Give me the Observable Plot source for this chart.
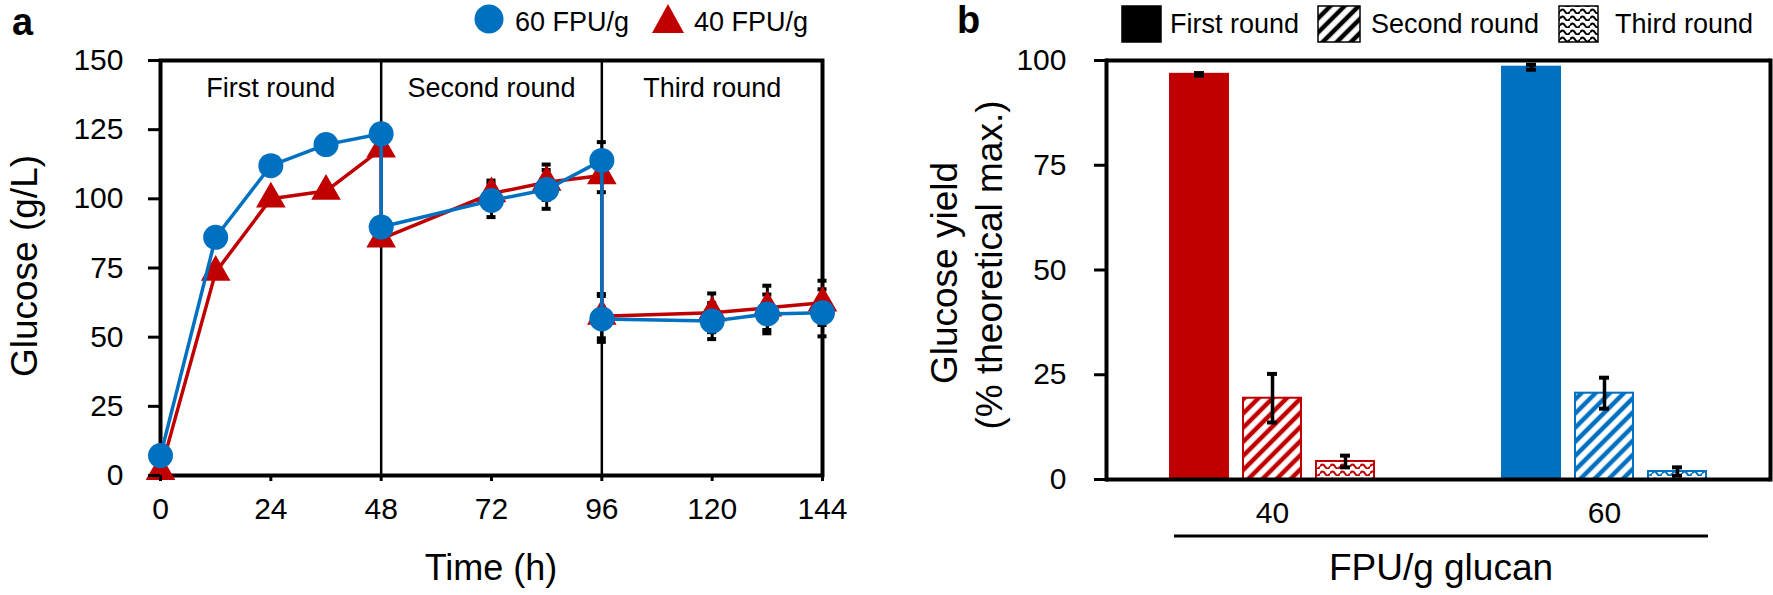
<!DOCTYPE html>
<html><head><meta charset="utf-8">
<script src="https://cdn.jsdelivr.net/npm/d3@7"></script>
<script src="https://cdn.jsdelivr.net/npm/@observablehq/plot@0.6"></script>
<style>
body{margin:0;background:#fff;}
#root{position:relative;width:1773px;height:595px;overflow:hidden;font-family:"Liberation Sans",Arial,sans-serif;}
#root > svg{position:absolute;top:0;}
</style></head>
<body><div id="root"></div>
<script>
// ---------- Panel a data ----------
const hours      = [0, 12, 24, 36, 48, 48, 72, 84, 96, 96, 120, 132, 144];
const glucose60  = [7.2, 86.1, 112.0, 119.6, 123.5, 89.8, 99.4, 103.4, 113.9, 56.6, 55.8, 58.4, 58.8];
const sd60       = [0, 0, 0, 0, 0, 0, 6.0, 7.0, 6.6, 8.3, 6.5, 7.0, 8.5];
const glucose40  = [1.5, 73.5, 100.0, 102.8, 118.0, 85.5, 101.9, 106.0, 108.4, 57.6, 58.8, 60.6, 62.4];
const sd40       = [0, 0, 0, 0, 0, 0, 4.7, 6.4, 6.0, 8.0, 7.0, 8.0, 8.0];
const hourTicks    = [0, 24, 48, 72, 96, 120, 144];
const glucoseTicks = [0, 25, 50, 75, 100, 125, 150];
const roundBounds  = [0, 48, 96, 144];
const roundNames   = ["First round", "Second round", "Third round"];
const seriesNames  = ["60 FPU/g", "40 FPU/g"];

// ---------- Panel b data ----------
const loadings   = [40, 60];
const yield40    = [96.7, 19.4, 4.3];
const yieldSd40  = [0.3, 5.8, 1.4];
const yield60    = [98.4, 20.6, 1.9];
const yieldSd60  = [0.6, 3.7, 1.0];
const yieldTicks = [0, 25, 50, 75, 100];

const RED = "#C00000", BLUE = "#0070C0";
const font = '"Liberation Sans", Arial, sans-serif';
const root = d3.select("#root");

// ---------- patterns ----------
const defs = root.append("svg").attr("width", 0).attr("height", 0).style("left", "0").append("defs");
function hatch(id, color) {
  const p = defs.append("pattern").attr("id", id).attr("patternUnits", "userSpaceOnUse")
    .attr("width", 10).attr("height", 10).attr("patternTransform", "rotate(45)");
  p.append("rect").attr("width", 10).attr("height", 10).attr("fill", "white");
  p.append("line").attr("x1", 5).attr("x2", 5).attr("y1", -1).attr("y2", 11).attr("stroke", color).attr("stroke-width", 4.5);
}
function wave(id, color) {
  const p = defs.append("pattern").attr("id", id).attr("patternUnits", "userSpaceOnUse")
    .attr("width", 10).attr("height", 7);
  p.append("rect").attr("width", 10).attr("height", 7).attr("fill", "white");
  p.append("path").attr("d", "M0,4.5 Q2.5,0.5 5,4.5 T10,4.5").attr("fill", "none").attr("stroke", color).attr("stroke-width", 2);
}
hatch("hatch-red", RED); hatch("hatch-blue", BLUE); hatch("hatch-black", "black");
wave("wave-red", RED); wave("wave-blue", BLUE); wave("wave-black", "black");

// ---------- Panel a ----------
const rowsA = (vals, sds, name) => hours.map((t, i) => ({series: name, t, g: vals[i], sd: sds[i]}));
const a60 = rowsA(glucose60, sd60, seriesNames[0]);
const a40 = rowsA(glucose40, sd40, seriesNames[1]);
const errA = [...a40, ...a60].filter(d => d.sd > 0);
const roundMid = roundNames.map((n, i) => ({name: n, t: (roundBounds[i] + roundBounds[i + 1]) / 2}));

const plotA = Plot.plot({
  width: 900, height: 595,
  marginLeft: 160, marginRight: 78, marginTop: 60, marginBottom: 120,
  x: {domain: [0, 144]},
  y: {domain: [0, 150]},
  style: {fontFamily: font, color: "black", background: "none", overflow: "visible"},
  marks: [
    Plot.frame({strokeWidth: 4}),
    Plot.ruleX(roundBounds.slice(1, -1), {strokeWidth: 2.5}),
    Plot.text(roundMid, {x: "t", text: "name", frameAnchor: "top", lineAnchor: "top", dy: 17, fontSize: 27}),
    Plot.ruleX(errA, {x: "t", y1: d => d.g - d.sd, y2: d => d.g + d.sd, strokeWidth: 3}),
    Plot.ruleY(errA, {x1: "t", x2: "t", y: d => d.g + d.sd, insetLeft: -4.5, insetRight: -4.5, strokeWidth: 4}),
    Plot.ruleY(errA, {x1: "t", x2: "t", y: d => d.g - d.sd, insetLeft: -4.5, insetRight: -4.5, strokeWidth: 4}),
    Plot.line(a40, {x: "t", y: "g", stroke: RED, strokeWidth: 3.5}),
    Plot.dot(a40, {x: "t", y: "g", symbol: "triangle", r: 11, fill: RED}),
    Plot.line(a60, {x: "t", y: "g", stroke: BLUE, strokeWidth: 3.5}),
    Plot.dot(a60, {x: "t", y: "g", r: 12.5, fill: BLUE}),
    Plot.axisX({ticks: hourTicks, tickSize: 6, tickPadding: 16, fontSize: 30, strokeWidth: 3, label: null}),
    Plot.axisY({ticks: glucoseTicks, tickSize: 12, tickPadding: 25, fontSize: 30, strokeWidth: 3, label: null})
  ]
});
plotA.style.left = "0px";
root.node().appendChild(plotA);

// ---------- Panel b ----------
const barsB = loadings.flatMap(f => roundNames.map((r, i) => ({
  fpu: f, round: r,
  value: (f === 40 ? yield40 : yield60)[i],
  sd: (f === 40 ? yieldSd40 : yieldSd60)[i]
})));
const colorOf = d => d.fpu === loadings[0] ? RED : BLUE;
const fillOf = d => d.round === roundNames[0] ? colorOf(d)
  : `url(#${d.round === roundNames[1] ? "hatch" : "wave"}-${d.fpu === loadings[0] ? "red" : "blue"})`;

const plotB = Plot.plot({
  width: 873, height: 595,
  marginLeft: 206, marginRight: 3, marginTop: 60, marginBottom: 116,
  facet: {marginTop: 0, marginRight: 0, marginBottom: 0, marginLeft: 0},
  fx: {domain: loadings, padding: 0},
  x: {domain: roundNames, paddingInner: 0.21, paddingOuter: 0.867, axis: null},
  y: {domain: [0, 100]},
  color: {type: "identity"},
  style: {fontFamily: font, color: "black", background: "none", overflow: "visible"},
  marks: [
    Plot.barY(barsB, {fx: "fpu", x: "round", y: "value", fill: fillOf, stroke: colorOf, strokeWidth: 2}),
    Plot.ruleX(barsB, {fx: "fpu", x: "round", y1: d => d.value - d.sd, y2: d => d.value + d.sd, strokeWidth: 3.5}),
    Plot.tickY(barsB, {fx: "fpu", x: "round", y: d => d.value + d.sd, inset: 24, strokeWidth: 4}),
    Plot.tickY(barsB, {fx: "fpu", x: "round", y: d => d.value - d.sd, inset: 24, strokeWidth: 4}),
    Plot.ruleY([0, 100], {strokeWidth: 4}),
    Plot.frame({anchor: "left", facetAnchor: "left", strokeWidth: 4}),
    Plot.frame({anchor: "right", facetAnchor: "right", strokeWidth: 4}),
    Plot.axisY({ticks: yieldTicks, tickSize: 12, tickPadding: 28, fontSize: 30, strokeWidth: 3, label: null}),
    Plot.axisFx({anchor: "bottom", tickSize: 0, tickPadding: 22, fontSize: 30, label: null})
  ]
});
plotB.style.left = "900px";
root.node().appendChild(plotB);

// ---------- overlay: titles & legends ----------
const ov = root.append("svg").attr("width", 1773).attr("height", 595).style("left", "0")
  .style("pointer-events", "none").attr("font-family", font).attr("fill", "black");

ov.append("text").attr("x", 12).attr("y", 35).attr("font-weight", "bold").attr("font-size", 38).text("a");
ov.append("text").attr("x", 957).attr("y", 33).attr("font-weight", "bold").attr("font-size", 38).text("b");

// axis titles panel a
ov.append("text").attr("transform", "translate(37,266) rotate(-90)").attr("text-anchor", "middle")
  .attr("font-size", 37).text("Glucose (g/L)");
ov.append("text").attr("x", 491).attr("y", 580).attr("text-anchor", "middle").attr("font-size", 36).text("Time (h)");

// axis titles panel b
ov.append("text").attr("transform", "translate(957,273) rotate(-90)").attr("text-anchor", "middle")
  .attr("font-size", 37).text("Glucose yield");
ov.append("text").attr("transform", "translate(1002,265) rotate(-90)").attr("text-anchor", "middle")
  .attr("font-size", 37).text("(% theoretical max.)");
ov.append("line").attr("x1", 1174).attr("x2", 1708).attr("y1", 536).attr("y2", 536)
  .attr("stroke", "black").attr("stroke-width", 3);
ov.append("text").attr("x", 1441).attr("y", 580).attr("text-anchor", "middle").attr("font-size", 37).text("FPU/g glucan");

// legend panel a
ov.append("circle").attr("cx", 489).attr("cy", 19).attr("r", 14.5).attr("fill", BLUE);
ov.append("text").attr("x", 515).attr("y", 31).attr("font-size", 27).text(seriesNames[0]);
ov.append("path").attr("d", "M668,4 L684,33 L652,33 Z").attr("fill", RED);
ov.append("text").attr("x", 694).attr("y", 31).attr("font-size", 27).text(seriesNames[1]);

// legend panel b
const swatches = [
  {x: 1122, w: 39, fill: "black", tx: 1170},
  {x: 1318, w: 42, fill: "url(#hatch-black)", tx: 1371},
  {x: 1559, w: 39, fill: "url(#wave-black)", tx: 1615}
];
swatches.forEach((s, i) => {
  ov.append("rect").attr("x", s.x).attr("y", 6).attr("width", s.w).attr("height", 36)
    .attr("fill", s.fill).attr("stroke", "black").attr("stroke-width", 1.5);
  ov.append("text").attr("x", s.tx).attr("y", 33).attr("font-size", 27).text(roundNames[i]);
});
</script>
</body></html>
